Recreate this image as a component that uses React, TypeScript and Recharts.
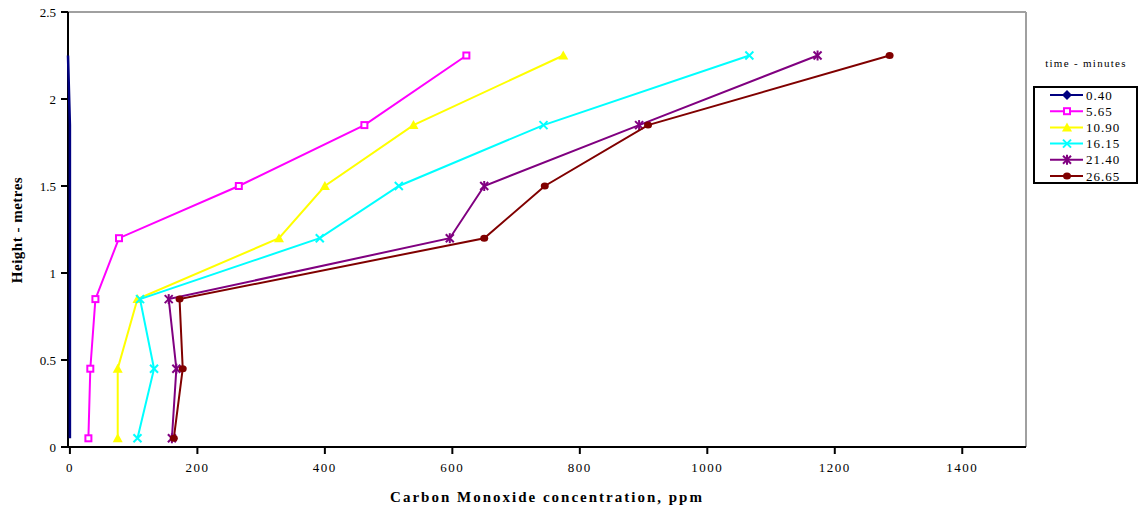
import React from 'react';
import { ScatterChart, Scatter, XAxis, YAxis, ReferenceLine } from 'recharts';

const heights = [0.05, 0.45, 0.85, 1.2, 1.5, 1.85, 2.25];
const seriesNames = ['0.40', '5.65', '10.90', '16.15', '21.40', '26.65'];
const s040 = [0, 0, 0, 0, 0, 0, -3];
const s565 = [29, 32, 40, 77, 265, 462, 622];
const s1090 = [75, 75, 106, 328, 400, 539, 774];
const s1615 = [106, 132, 110, 392, 516, 743, 1066];
const s2140 = [160, 167, 155, 596, 650, 893, 1173];
const s2665 = [163, 177, 172, 650, 745, 907, 1286];
const xTicks = [0, 200, 400, 600, 800, 1000, 1200, 1400];
const yTicks = [0, 0.5, 1, 1.5, 2, 2.5];

const seriesValues = [s040, s565, s1090, s1615, s2140, s2665];
const colors = ['#000080', '#FF00FF', '#FFFF00', '#00FFFF', '#800080', '#800000'];
const markers = ['diamond', 'square', 'triangle', 'x', 'star', 'circle'];

const FONT = '"Liberation Serif", "Times New Roman", serif';

function Marker({ type, cx, cy, color }: { type: string; cx: number; cy: number; color: string }) {
  if (cx == null || cy == null || isNaN(cx) || isNaN(cy)) return null;
  switch (type) {
    case 'diamond':
      return <polygon points={`${cx},${cy - 5} ${cx + 5},${cy} ${cx},${cy + 5} ${cx - 5},${cy}`} fill={color} />;
    case 'square':
      return <rect x={cx - 3} y={cy - 3} width={6} height={6} fill="#fff" stroke={color} strokeWidth={2} />;
    case 'triangle':
      return <polygon points={`${cx},${cy - 5} ${cx + 5},${cy + 4} ${cx - 5},${cy + 4}`} fill={color} />;
    case 'x':
      return (
        <g stroke={color} strokeWidth={2}>
          <line x1={cx - 4} y1={cy - 4} x2={cx + 4} y2={cy + 4} />
          <line x1={cx - 4} y1={cy + 4} x2={cx + 4} y2={cy - 4} />
        </g>
      );
    case 'star':
      return (
        <g stroke={color} strokeWidth={2}>
          <line x1={cx - 4} y1={cy - 4} x2={cx + 4} y2={cy + 4} />
          <line x1={cx - 4} y1={cy + 4} x2={cx + 4} y2={cy - 4} />
          <line x1={cx} y1={cy - 5} x2={cx} y2={cy + 5} />
        </g>
      );
    case 'circle':
      return <ellipse cx={cx} cy={cy} rx={4} ry={3.5} fill={color} />;
    default:
      return null;
  }
}

export default function App() {
  const data = seriesValues.map((vals) => vals.map((v, i) => ({ x: v, y: heights[i] })));
  return (
    <div style={{ position: 'absolute', left: 0, top: 0, width: 1139, height: 510, background: '#fff', fontFamily: FONT }}>
      <ScatterChart width={1139} height={510} margin={{ top: 12, right: 113, bottom: 23, left: 8 }}>
        <XAxis
          type="number"
          dataKey="x"
          domain={[0, 1500]}
          ticks={xTicks}
          height={40}
          axisLine={{ stroke: '#000', strokeWidth: 2 }}
          tickLine={{ stroke: '#000', strokeWidth: 2 }}
          tickSize={7}
          tickMargin={9}
          tick={{ fill: '#000', fontSize: 13, fontFamily: FONT, letterSpacing: 1.5 }}
        />
        <YAxis
          type="number"
          dataKey="y"
          domain={[0, 2.5]}
          ticks={yTicks}
          width={60}
          axisLine={{ stroke: '#000', strokeWidth: 2 }}
          tickLine={{ stroke: '#000', strokeWidth: 2 }}
          tickSize={7}
          tickMargin={5}
          tick={{ fill: '#000', fontSize: 13, fontFamily: FONT }}
        />
        <ReferenceLine y={2.5} stroke="#a0a0a0" strokeWidth={2} />
        <ReferenceLine x={1500} stroke="#a0a0a0" strokeWidth={2} />
        {data.map((d, i) => (
          <Scatter
            key={seriesNames[i]}
            name={seriesNames[i]}
            data={d}
            isAnimationActive={false}
            line={{ stroke: colors[i], strokeWidth: i === 0 ? 2.5 : 2 }}
            lineType="joint"
            shape={(p: any) => (i === 0 ? <g /> : <Marker type={markers[i]} cx={p.cx} cy={p.cy} color={colors[i]} />)}
          />
        ))}
      </ScatterChart>
      <svg width={1139} height={510} style={{ position: 'absolute', left: 0, top: 0, pointerEvents: 'none' }}>
        <text x={547} y={502} textAnchor="middle" fontFamily={FONT} fontWeight="bold" fontSize={15} letterSpacing={2} fill="#000">
          Carbon Monoxide concentration, ppm
        </text>
        <text
          x={0}
          y={0}
          transform="translate(22,230) rotate(-90)"
          textAnchor="middle"
          fontFamily={FONT}
          fontWeight="bold"
          fontSize={15}
          letterSpacing={0.5}
          fill="#000"
        >
          Height - metres
        </text>
        <text x={1086} y={67} textAnchor="middle" fontFamily={FONT} fontSize={11} letterSpacing={1.3} fill="#000">
          time - minutes
        </text>
        <rect x={1034} y={87} width={103} height={96} fill="#fff" stroke="#000" strokeWidth={2} />
        {seriesNames.map((n, i) => {
          const cy = 95 + i * 16.2;
          return (
            <g key={n}>
              <line x1={1050} y1={cy} x2={1083} y2={cy} stroke={colors[i]} strokeWidth={2} />
              <Marker type={markers[i]} cx={1067} cy={cy} color={colors[i]} />
              <text x={1086} y={cy + 4.5} fontFamily={FONT} fontSize={13} letterSpacing={1} fill="#000">
                {n}
              </text>
            </g>
          );
        })}
      </svg>
    </div>
  );
}
